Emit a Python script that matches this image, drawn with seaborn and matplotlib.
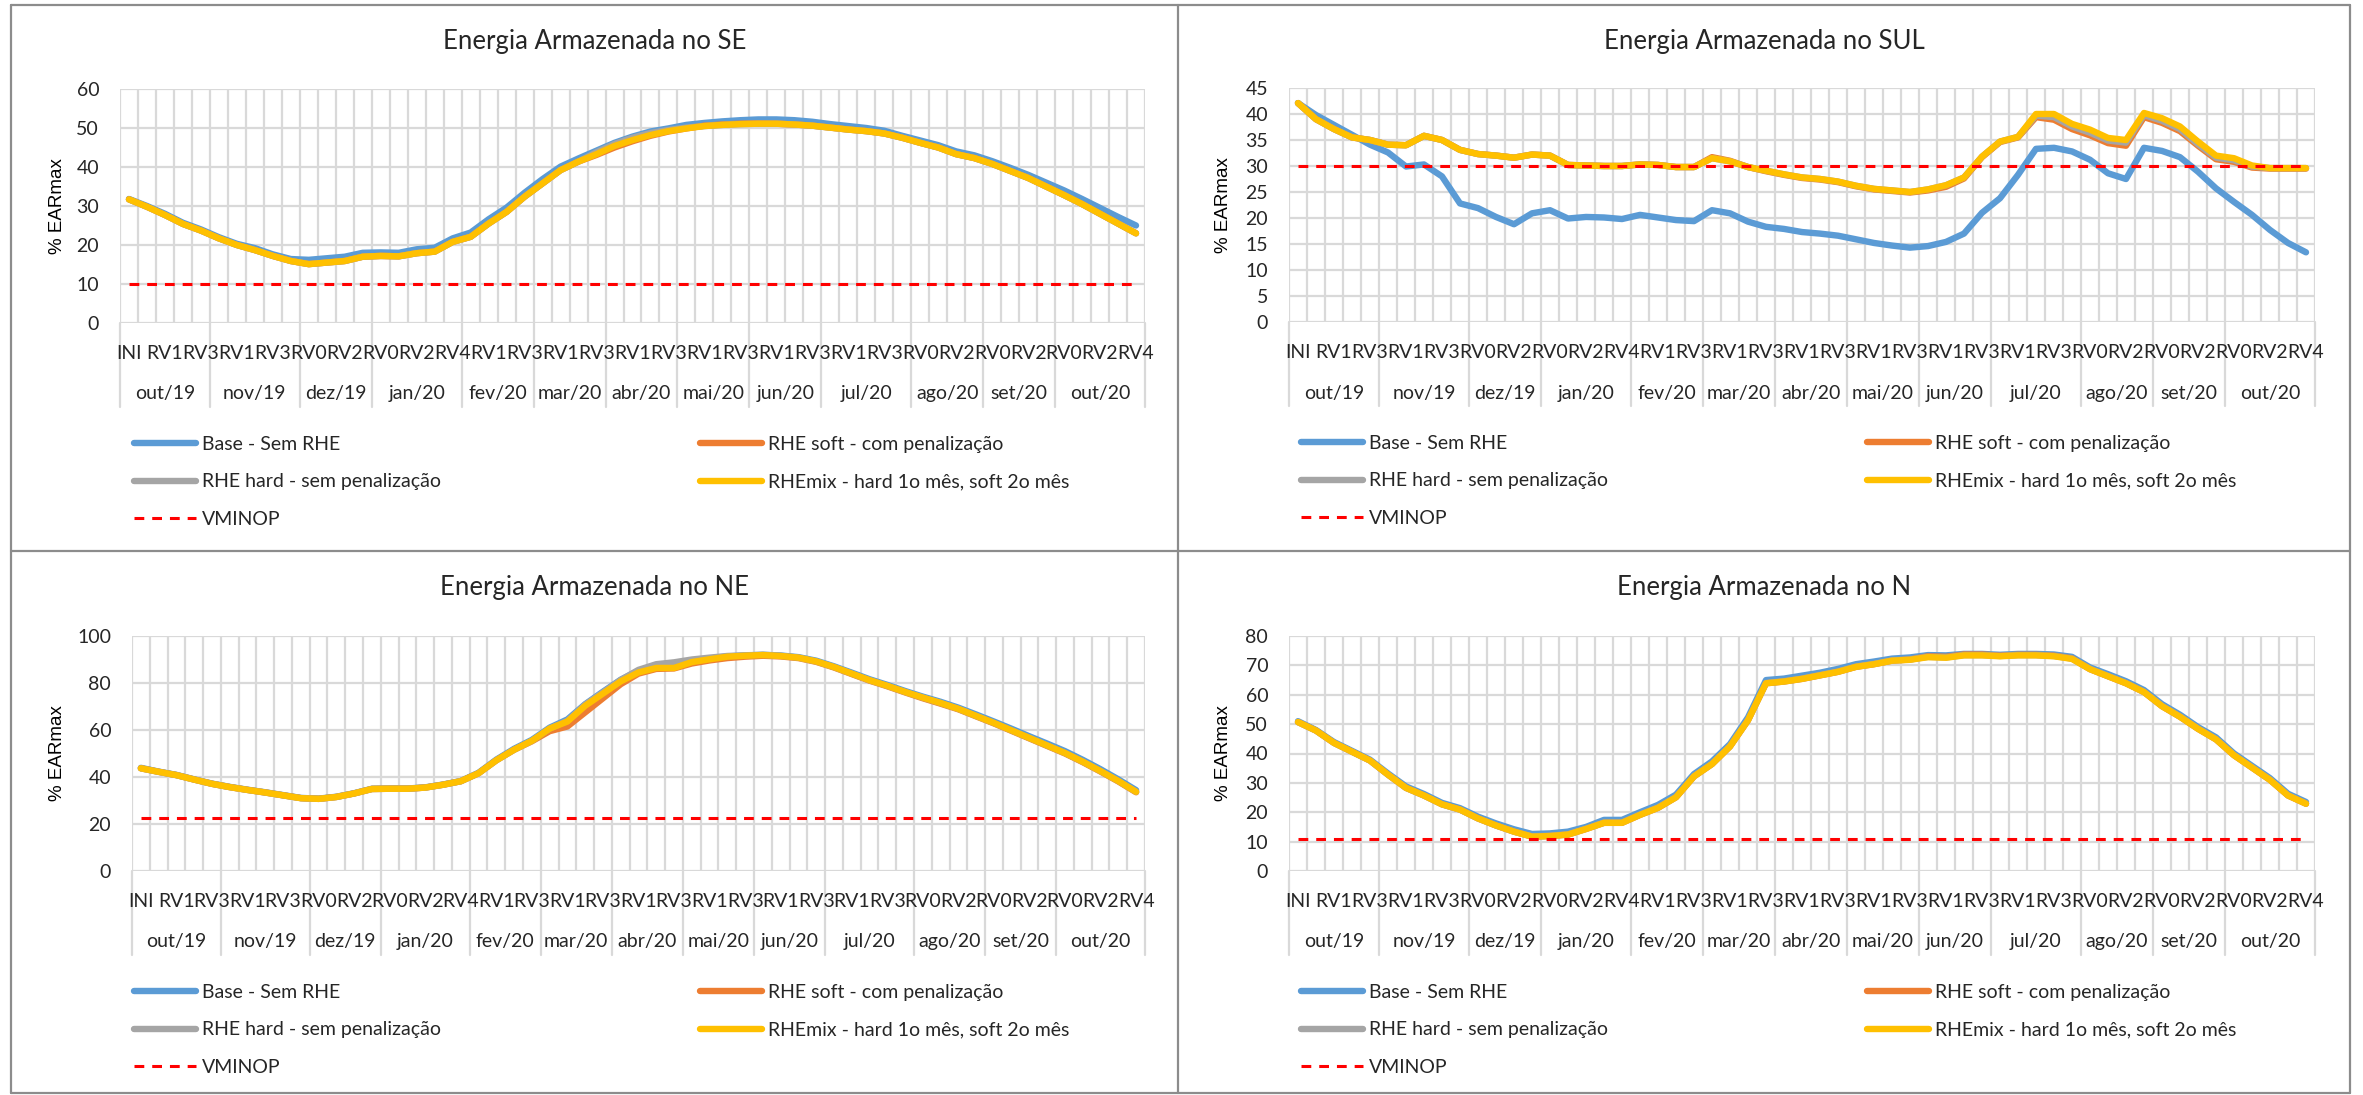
import numpy as np
import pandas as pd
import matplotlib.pyplot as plt
from matplotlib.lines import Line2D
from matplotlib.ticker import NullFormatter
import matplotlib.transforms as mtransforms
import seaborn as sns

W, H = 2363, 1095

# eixo de categorias (semanas / meses)
meses = ["out/19", "nov/19", "dez/19", "jan/20", "fev/20", "mar/20", "abr/20",
         "mai/20", "jun/20", "jul/20", "ago/20", "set/20", "out/20"]
semanas_por_mes = [5, 5, 4, 5, 4, 4, 4, 4, 4, 5, 4, 4, 5]
semanas = (["INI", "RV0", "RV1", "RV2", "RV3"]
           + ["RV0", "RV1", "RV2", "RV3", "RV4"]
           + ["RV0", "RV1", "RV2", "RV3"]
           + ["RV0", "RV1", "RV2", "RV3", "RV4"]
           + ["RV0", "RV1", "RV2", "RV3"] * 5
           + ["RV0", "RV1", "RV2", "RV3", "RV4"]
           + ["RV0", "RV1", "RV2", "RV3"] * 2
           + ["RV0", "RV1", "RV2", "RV3", "RV4"])

series = ["Base - Sem RHE", "RHE soft - com penalização",
          "RHE hard - sem penalização", "RHEmix - hard 1o mês, soft 2o mês"]
cores = ["#5B9BD5", "#ED7D31", "#A5A5A5", "#FFC000"]

# ---- SE ----
se_base = [31.8, 30.0, 28.0, 25.7, 24.0, 22.0, 20.3, 19.2, 17.6, 16.4,
           16.2, 16.6, 17.0, 18.0, 18.1, 18.0, 18.9, 19.3, 21.7, 23.2,
           26.6, 29.6, 33.4, 36.9, 40.1, 42.2, 44.2, 46.2, 47.8, 49.1,
           49.9, 50.8, 51.3, 51.7, 52.0, 52.2, 52.2, 52.0, 51.6, 51.0,
           50.5, 50.0, 49.3, 48.0, 46.8, 45.6, 44.0, 43.0, 41.5, 39.8,
           38.0, 36.0, 34.0, 31.8, 29.5, 27.2, 25.0]
se_soft = [31.7, 29.8, 27.7, 25.4, 23.7, 21.7, 20.0, 18.7, 17.2, 15.9,
           15.1, 15.5, 15.9, 17.0, 17.2, 17.1, 17.9, 18.3, 20.8, 22.1,
           25.5, 28.5, 32.4, 35.8, 39.2, 41.4, 43.1, 45.0, 46.6, 48.0,
           49.1, 49.9, 50.6, 50.9, 51.1, 51.2, 51.1, 50.9, 50.6, 50.1,
           49.6, 49.2, 48.6, 47.5, 46.2, 45.0, 43.3, 42.3, 40.8, 39.0,
           37.2, 35.0, 32.8, 30.5, 28.0, 25.5, 23.0]
se_hard = [31.7, 29.8, 27.7, 25.4, 23.7, 21.7, 20.0, 18.7, 17.2, 15.9,
           15.1, 15.5, 15.9, 17.0, 17.2, 17.1, 17.9, 18.3, 20.8, 22.1,
           25.5, 28.5, 32.4, 35.8, 39.2, 41.4, 43.8, 45.9, 47.5, 48.7,
           49.5, 50.1, 50.5, 50.8, 51.0, 51.1, 51.1, 50.9, 50.6, 50.1,
           49.6, 49.2, 48.6, 47.5, 46.2, 45.0, 43.3, 42.3, 40.8, 39.0,
           37.2, 35.0, 32.8, 30.5, 28.0, 25.5, 23.0]
se_mix = [31.7, 29.8, 27.7, 25.4, 23.7, 21.7, 20.0, 18.7, 17.2, 15.9,
          15.1, 15.5, 15.9, 17.0, 17.2, 17.1, 17.9, 18.3, 20.8, 22.1,
          25.5, 28.5, 32.4, 35.8, 39.2, 41.4, 43.3, 45.4, 46.9, 48.2,
          49.2, 49.9, 50.5, 50.8, 51.0, 51.1, 51.1, 50.9, 50.6, 50.1,
          49.6, 49.2, 48.6, 47.5, 46.2, 45.0, 43.3, 42.3, 40.8, 39.0,
          37.2, 35.0, 32.8, 30.5, 28.0, 25.5, 23.0]

# ---- SUL ----
sul_base = [42.1, 39.8, 37.9, 36.0, 34.1, 32.6, 29.9, 30.3, 28.0, 22.8,
            21.9, 20.2, 18.8, 20.9, 21.5, 19.9, 20.2, 20.1, 19.8, 20.6,
            20.1, 19.6, 19.4, 21.5, 20.9, 19.3, 18.3, 17.9, 17.3, 17.0,
            16.6, 15.9, 15.2, 14.7, 14.3, 14.6, 15.4, 17.0, 21.0, 23.8,
            28.3, 33.3, 33.5, 32.8, 31.2, 28.6, 27.5, 33.5, 32.9, 31.7,
            28.9, 25.7, 23.1, 20.6, 17.7, 15.2, 13.4]
sul_soft = [42.1, 39.0, 37.1, 35.5, 35.0, 34.1, 34.0, 35.8, 35.0, 33.1,
            32.3, 32.0, 31.6, 32.2, 32.0, 30.2, 30.1, 30.0, 30.0, 30.3,
            30.2, 29.8, 29.8, 31.7, 31.0, 29.8, 29.0, 28.3, 27.7, 27.4,
            26.9, 26.1, 25.5, 25.2, 24.9, 25.3, 26.0, 27.6, 31.7, 34.6,
            35.5, 39.4, 38.9, 37.1, 35.9, 34.4, 33.9, 39.4, 38.3, 36.7,
            33.9, 31.3, 30.8, 29.7, 29.5, 29.5, 29.5]
sul_hard = [42.1, 39.0, 37.1, 35.5, 35.0, 34.1, 34.0, 35.8, 35.0, 33.1,
            32.3, 32.0, 31.6, 32.2, 32.0, 30.2, 30.1, 30.0, 30.0, 30.3,
            30.2, 29.8, 29.8, 31.5, 30.9, 29.8, 29.1, 28.4, 27.8, 27.5,
            27.0, 26.2, 25.6, 25.3, 25.0, 25.5, 26.3, 27.8, 31.8, 34.7,
            35.6, 39.7, 39.4, 37.6, 36.4, 34.9, 34.5, 39.8, 38.7, 37.1,
            34.2, 31.6, 31.1, 29.9, 29.6, 29.6, 29.6]
sul_mix = [42.1, 39.0, 37.1, 35.5, 35.0, 34.1, 34.0, 35.8, 35.0, 33.1,
           32.3, 32.0, 31.6, 32.2, 32.0, 30.2, 30.1, 30.0, 30.0, 30.3,
           30.2, 29.8, 29.8, 31.5, 30.9, 29.8, 29.1, 28.4, 27.8, 27.5,
           27.0, 26.2, 25.6, 25.3, 25.0, 25.5, 26.3, 27.8, 31.8, 34.7,
           35.6, 40.0, 40.0, 38.1, 37.0, 35.4, 35.0, 40.2, 39.2, 37.6,
           34.7, 32.0, 31.5, 30.1, 29.6, 29.6, 29.6]

# ---- NE ----
ne_base = [43.9, 42.3, 40.9, 39.0, 37.2, 35.8, 34.6, 33.5, 32.3, 31.1,
           30.8, 31.6, 33.1, 35.0, 35.1, 35.1, 35.6, 36.8, 38.3, 41.8,
           47.4, 52.0, 55.8, 61.0, 64.5, 71.0, 76.3, 81.4, 85.2, 87.2,
           87.8, 89.4, 90.4, 91.3, 91.7, 92.0, 91.7, 91.0, 89.5, 87.1,
           84.4, 81.6, 79.2, 76.6, 74.2, 72.0, 69.5, 66.6, 63.6, 60.5,
           57.3, 54.2, 51.0, 47.3, 43.3, 39.0, 34.4]
ne_soft = [43.7, 42.2, 40.8, 38.9, 37.1, 35.7, 34.5, 33.4, 32.2, 31.0,
           30.7, 31.5, 33.0, 34.9, 35.0, 35.0, 35.5, 36.7, 38.2, 41.6,
           47.1, 51.6, 55.2, 59.5, 61.5, 67.5, 73.5, 79.5, 84.0, 86.0,
           86.2, 88.3, 89.6, 90.6, 91.2, 91.6, 91.3, 90.6, 89.0, 86.6,
           83.8, 81.0, 78.6, 76.0, 73.5, 71.2, 68.8, 65.8, 62.8, 59.6,
           56.4, 53.2, 50.0, 46.3, 42.3, 38.1, 33.5]
ne_hard = [43.7, 42.2, 40.8, 38.9, 37.1, 35.7, 34.5, 33.4, 32.2, 31.0,
           30.7, 31.5, 33.0, 34.9, 35.0, 35.0, 35.5, 36.7, 38.2, 41.6,
           47.1, 51.6, 55.4, 60.6, 63.9, 70.8, 76.0, 81.3, 85.6, 88.0,
           88.8, 90.0, 90.8, 91.5, 91.8, 92.0, 91.6, 90.8, 89.2, 86.8,
           84.0, 81.2, 78.8, 76.2, 73.8, 71.5, 69.0, 66.0, 63.0, 59.8,
           56.6, 53.4, 50.2, 46.5, 42.5, 38.3, 33.7]
ne_mix = [43.7, 42.2, 40.8, 38.9, 37.1, 35.7, 34.5, 33.4, 32.2, 31.0,
          30.7, 31.5, 33.0, 34.9, 35.0, 35.0, 35.5, 36.7, 38.2, 41.6,
          47.1, 51.6, 55.4, 60.6, 63.6, 70.3, 75.5, 80.7, 84.5, 86.4,
          86.4, 88.9, 90.1, 91.2, 91.6, 91.9, 91.5, 90.8, 89.2, 86.8,
          84.0, 81.2, 78.8, 76.2, 73.8, 71.5, 69.0, 66.0, 63.0, 59.8,
          56.6, 53.4, 50.2, 46.5, 42.5, 38.3, 33.7]

# ---- N ----
n_base = [51.0, 48.0, 43.9, 40.9, 37.9, 33.2, 28.8, 26.2, 23.2, 21.4,
          18.5, 16.2, 14.2, 12.6, 12.8, 13.4, 15.0, 17.4, 17.4, 20.0,
          22.5, 26.0, 33.0, 37.3, 43.2, 52.3, 65.0, 65.5, 66.5, 67.5,
          68.8, 70.4, 71.3, 72.3, 72.7, 73.5, 73.4, 73.9, 73.9, 73.6,
          73.9, 73.9, 73.7, 72.9, 69.3, 67.0, 64.6, 61.6, 56.8, 53.2,
          49.0, 45.5, 40.0, 35.8, 31.6, 26.3, 23.5]
n_soft = [50.7, 47.8, 43.6, 40.6, 37.6, 32.8, 28.3, 25.7, 22.7, 20.9,
          17.9, 15.5, 13.4, 11.7, 11.9, 12.4, 14.3, 16.4, 16.4, 19.1,
          21.5, 25.1, 32.2, 36.4, 42.4, 51.3, 63.9, 64.5, 65.4, 66.6,
          67.8, 69.5, 70.4, 71.6, 72.0, 73.1, 72.9, 73.7, 73.7, 73.3,
          73.6, 73.6, 73.3, 72.4, 68.7, 66.3, 63.9, 60.9, 56.1, 52.5,
          48.4, 44.8, 39.4, 35.2, 31.0, 25.7, 22.9]
n_hard = [50.7, 47.8, 43.6, 40.6, 37.6, 32.8, 28.3, 25.7, 22.7, 20.9,
          17.9, 15.5, 13.4, 11.8, 12.0, 12.5, 14.4, 16.5, 16.5, 19.2,
          21.6, 25.2, 32.3, 36.5, 42.5, 51.4, 64.0, 64.6, 65.5, 66.7,
          67.9, 69.6, 70.5, 71.7, 72.0, 72.9, 72.7, 73.5, 73.5, 73.2,
          73.5, 73.5, 73.2, 72.3, 68.8, 66.4, 64.0, 61.0, 56.2, 52.6,
          48.5, 44.9, 39.5, 35.3, 31.1, 25.8, 23.0]
n_mix = [50.7, 47.8, 43.6, 40.6, 37.6, 32.8, 28.3, 25.7, 22.7, 20.9,
         17.9, 15.5, 13.4, 11.7, 11.9, 12.4, 14.3, 16.4, 16.4, 19.1,
         21.5, 25.1, 32.2, 36.4, 42.4, 51.3, 63.9, 64.5, 65.4, 66.6,
         67.8, 69.5, 70.4, 71.6, 71.9, 72.8, 72.6, 73.4, 73.4, 73.1,
         73.4, 73.4, 73.1, 72.2, 68.7, 66.3, 63.9, 60.9, 56.1, 52.5,
         48.4, 44.8, 39.4, 35.2, 31.0, 25.7, 22.9]

vminop = {"SE": 10.0, "SUL": 30.0, "NE": 22.5, "N": 10.8}
yticks = {"SE": list(range(0, 61, 10)), "SUL": list(range(0, 46, 5)),
          "NE": list(range(0, 101, 20)), "N": list(range(0, 81, 10))}

# painel: (nome, dados, canto do painel x/y, caixa do grafico l, t, r, b em pixels)
paineis = [
    ("SE", [se_base, se_soft, se_hard, se_mix], 11, 5, (120, 89, 1145, 323)),
    ("SUL", [sul_base, sul_soft, sul_hard, sul_mix], 1178, 5, (1289, 88, 2315, 322)),
    ("NE", [ne_base, ne_soft, ne_hard, ne_mix], 11, 551, (132, 636, 1145, 871)),
    ("N", [n_base, n_soft, n_hard, n_mix], 1178, 551, (1289, 636, 2315, 871)),
]

sns.set_theme(style="white")
plt.rcParams["font.family"] = ["Lato", "DejaVu Sans"]
texto = "#262626"
grade = "#D9D9D9"


def fx(px):
    return px / W


def fy(py):
    return 1 - py / H


fig = plt.figure(figsize=(W / 100, H / 100), dpi=100)

x = np.arange(len(semanas))
limites = np.concatenate([[0], np.cumsum(semanas_por_mes)]) - 0.5
centros_mes = (limites[:-1] + limites[1:]) / 2

for nome, dados, px0, py0, (l, t, r, b) in paineis:
    ax = fig.add_axes([fx(l), fy(b), (r - l) / W, (b - t) / H])
    df = pd.DataFrame({"semana": x})
    for s, cor, vals in zip(series, cores, dados):
        df[s] = vals
        sns.lineplot(data=df, x="semana", y=s, ax=ax, color=cor, lw=4.6,
                     legend=False, solid_joinstyle="round", solid_capstyle="round")
    df["VMINOP"] = vminop[nome]
    sns.lineplot(data=df, x="semana", y="VMINOP", ax=ax, color="#FF0000", lw=2.2, legend=False)
    ax.lines[-1].set_dashes([3.2, 2.6])

    ax.set_xlim(-0.5, len(semanas) - 0.5)
    ax.set_ylim(0, yticks[nome][-1])
    ax.set_yticks(yticks[nome])
    ax.set_xticks(np.arange(-0.5, len(semanas), 1))
    ax.xaxis.set_major_formatter(NullFormatter())
    ax.set_xticks(x[::2], labels=semanas[::2], minor=True)
    ax.tick_params(axis="x", which="both", length=0)
    ax.tick_params(axis="x", which="minor", pad=15.5, labelsize=14, labelcolor=texto)
    ax.tick_params(axis="y", length=0, pad=15, labelsize=14, labelcolor=texto)
    ax.grid(True, which="major", color=grade, lw=1.6)
    ax.set_axisbelow(True)
    ax.set_xlabel("")
    ax.set_ylabel("")
    for sp in ax.spines.values():
        sp.set_visible(False)

    # eixo de dois niveis: separadores (por baixo dos rotulos) e meses
    blend = mtransforms.blended_transform_factory(ax.transData, fig.transFigure)
    for xb in limites:
        ax.plot([xb, xb], [fy(b), fy(b + 84)], transform=blend, color=grade,
                lw=1.6, clip_on=False, zorder=0.3)
    for xc, m in zip(centros_mes, meses):
        ax.text(xc, fy(b + 71), m, transform=blend, ha="center", va="center",
                fontsize=14, color=texto)

    pw = 1167 if px0 < 100 else 1172
    fig.text(fx(px0 + pw / 2), fy(py0 + 37), "Energia Armazenada no " + nome,
             ha="center", va="center", fontsize=18.5, color=texto)
    fig.text(fx(px0 + 46), fy((t + b) / 2), "% EARmax", rotation=90,
             ha="center", va="center", fontsize=13.5, color="black",
             family=["Liberation Sans", "DejaVu Sans"])

    hs = [Line2D([], [], color=c, lw=4.6) for c in cores]
    hv = Line2D([], [], color="#FF0000", lw=2.2, dashes=[3.2, 2.6])
    opts = dict(loc="upper left", bbox_transform=fig.transFigure, frameon=False,
                borderpad=0, borderaxespad=0, handlelength=3.2, handletextpad=0.3,
                labelspacing=1.05, fontsize=14, labelcolor=texto)
    fig.legend([hs[0], hs[2], hv], [series[0], series[2], "VMINOP"],
               bbox_to_anchor=(fx(px0 + 123), fy(b + 113)), **opts)
    fig.legend([hs[1], hs[3]], [series[1], series[3]],
               bbox_to_anchor=(fx(px0 + 689), fy(b + 113)), **opts)

# molduras dos paineis
borda = "#8C8C8C"
for xv in [11, 1178, 2350]:
    fig.add_artist(Line2D([fx(xv), fx(xv)], [fy(5), fy(1093)], color=borda, lw=1.6,
                          transform=fig.transFigure))
for yh in [5, 551, 1093]:
    fig.add_artist(Line2D([fx(11), fx(2350)], [fy(yh), fy(yh)], color=borda, lw=1.6,
                          transform=fig.transFigure))

fig.savefig("out.png", dpi=100, facecolor="white")
